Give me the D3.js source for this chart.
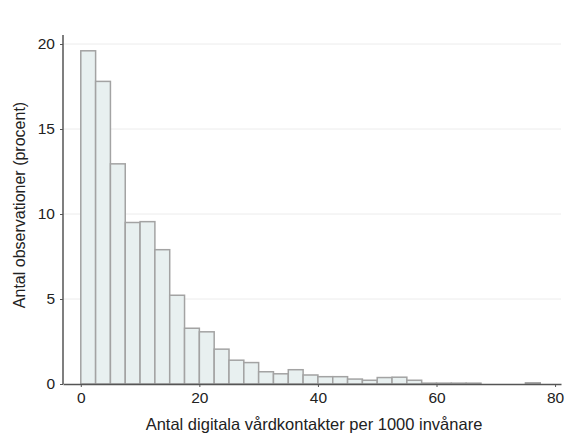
<!DOCTYPE html>
<html>
<head>
<meta charset="utf-8">
<script src="https://cdn.jsdelivr.net/npm/d3@7"></script>
<style>
  body { margin: 0; background: #fff; }
  text { font-family: "Liberation Sans", Arial, sans-serif; fill: #222; }
</style>
</head>
<body>
<svg id="chart" width="567" height="435"></svg>
<script>
// histogram bins (width 2.5) and share of observations in percent
var binWidth = 2.5;
var binStarts = [0, 2.5, 5, 7.5, 10, 12.5, 15, 17.5, 20, 22.5, 25, 27.5, 30, 32.5, 35, 37.5,
  40, 42.5, 45, 47.5, 50, 52.5, 55, 57.5, 60, 62.5, 65, 67.5, 70, 72.5, 75];
var percents = [19.6, 17.8, 12.95, 9.5, 9.55, 7.9, 5.22, 3.28, 3.07, 2.05, 1.4, 1.26, 0.72, 0.6, 0.84, 0.53,
  0.43, 0.43, 0.29, 0.22, 0.38, 0.4, 0.22, 0.05, 0.05, 0.05, 0.05, 0, 0, 0, 0.07];
var xTicks = [0, 20, 40, 60, 80];
var yTicks = [0, 5, 10, 15, 20];

var svg = d3.select('#chart');

var x = d3.scaleLinear().domain([-3, 81]).range([63, 561]);
var y = d3.scaleLinear().domain([0, 20]).range([384, 44]);

// grid lines
svg.append('g')
  .selectAll('line')
  .data(yTicks.filter(function(d){ return d > 0; }))
  .enter().append('line')
  .attr('x1', 63).attr('x2', 561)
  .attr('y1', function(d){ return y(d); })
  .attr('y2', function(d){ return y(d); })
  .attr('stroke', '#ececec')
  .attr('stroke-width', 1);

// bars
svg.append('g')
  .selectAll('rect')
  .data(binStarts)
  .enter().append('rect')
  .attr('x', function(d){ return x(d); })
  .attr('width', function(d){ return x(d + binWidth) - x(d); })
  .attr('y', function(d, i){ return y(percents[i]); })
  .attr('height', function(d, i){ return y(0) - y(percents[i]); })
  .attr('fill', '#e8f0f0')
  .attr('stroke', '#a3a3a3')
  .attr('stroke-width', 1.5);

// axes
var xAxis = svg.append('g')
  .attr('transform', 'translate(0,' + y(0) + ')')
  .call(d3.axisBottom(x).tickValues(xTicks).tickSize(3).tickPadding(5).tickSizeOuter(0));
xAxis.select('.domain').attr('stroke', '#555').attr('stroke-width', 1.5);
xAxis.selectAll('.tick line').attr('stroke', '#555');
xAxis.selectAll('text').style('font-size', '15.5px').attr('fill', '#1a1a1a');

var yAxis = svg.append('g')
  .attr('transform', 'translate(63,0)')
  .call(d3.axisLeft(y).tickValues(yTicks).tickSize(3).tickPadding(5).tickSizeOuter(0));
yAxis.select('.domain').attr('d', 'M0,' + 35 + 'V' + y(0)).attr('stroke', '#555').attr('stroke-width', 1.5);
yAxis.selectAll('.tick line').attr('stroke', '#555');
yAxis.selectAll('text').style('font-size', '15.5px').attr('fill', '#1a1a1a');

// axis titles
svg.append('text')
  .attr('x', 314).attr('y', 430)
  .attr('text-anchor', 'middle')
  .style('font-size', '16.5px')
  .text('Antal digitala vårdkontakter per 1000 invånare');

svg.append('text')
  .attr('transform', 'translate(25,205) rotate(-90)')
  .attr('text-anchor', 'middle')
  .style('font-size', '16px')
  .text('Antal observationer (procent)');
</script>
</body>
</html>
